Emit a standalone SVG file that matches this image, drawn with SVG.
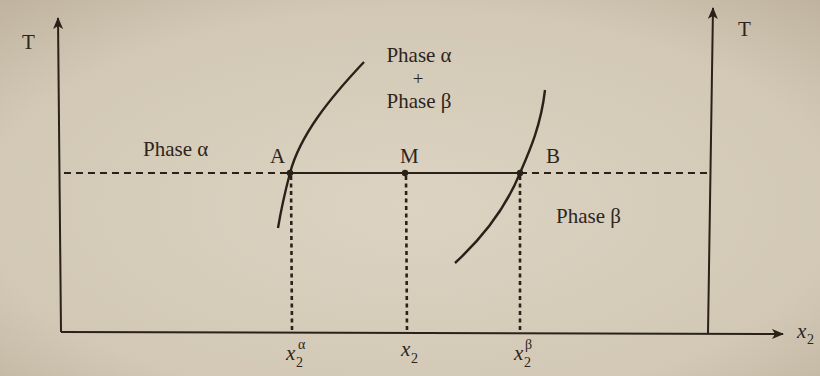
<svg xmlns="http://www.w3.org/2000/svg" width="820" height="376" viewBox="0 0 820 376">
  <defs>
    <radialGradient id="paper" cx="0.5" cy="0.55" r="0.75">
      <stop offset="0" stop-color="#dcd3c2"/>
      <stop offset="0.7" stop-color="#d2c8b5"/>
      <stop offset="1" stop-color="#bfb39e"/>
    </radialGradient>
    <marker id="arr" viewBox="0 0 12 10" refX="11" refY="5" markerWidth="12" markerHeight="10" markerUnits="userSpaceOnUse" orient="auto">
      <path d="M0,0 L12,5 L0,10 L3,5 Z" fill="#2a2219"/>
    </marker>
    <style>
      .ln { stroke: #2a2219; stroke-width: 2; fill: none; }
      .cv { stroke: #2a2219; stroke-width: 2.4; fill: none; }
      .dash { stroke: #2a2219; stroke-width: 2.2; fill: none; stroke-dasharray: 7 5; }
      .dot { stroke: #2a2219; stroke-width: 2.6; fill: none; stroke-dasharray: 4 3.5; }
      .t { font-family: "Liberation Serif", "DejaVu Serif", serif; font-size: 21px; fill: #2d251c; }
      .plus { font-family: "Liberation Serif", "DejaVu Serif", serif; font-size: 19px; fill: #2d251c; }
      .ti { font-family: "Liberation Serif", "DejaVu Serif", serif; font-size: 21px; font-style: italic; fill: #2d251c; }
      .sub { font-family: "Liberation Serif", "DejaVu Serif", serif; font-size: 14px; fill: #2d251c; }
      .pt { fill: #2a2219; }
    </style>
  </defs>
  <rect x="0" y="0" width="820" height="376" fill="url(#paper)"/>

  <g id="axes">
    <line class="ln" x1="61" y1="332" x2="58" y2="18" marker-end="url(#arr)"/>
    <line class="ln" x1="708" y1="333" x2="713" y2="8" marker-end="url(#arr)"/>
    <line class="ln" x1="61" y1="332" x2="783" y2="334" marker-end="url(#arr)"/>
    <text class="t" x="22" y="49">T</text>
    <text class="t" x="738" y="36">T</text>
    <text class="ti" x="797" y="338">x</text>
    <text class="sub" x="807" y="344">2</text>
  </g>

  <g id="connectors">
    <line class="dash" x1="64" y1="173" x2="290" y2="173"/>
    <line class="ln" x1="290" y1="173" x2="520" y2="173"/>
    <line class="dash" x1="520" y1="173" x2="710" y2="173"/>
    <line class="dot" x1="291" y1="176" x2="292" y2="330"/>
    <line class="dot" x1="406" y1="176" x2="407" y2="331"/>
    <line class="dot" x1="520" y1="176" x2="520" y2="332"/>
  </g>

  <g id="curve-alpha">
    <path class="cv" d="M364,62 C330,98 300,135 290,173 C285,192 281,210 278,228"/>
  </g>
  <g id="curve-beta">
    <path class="cv" d="M545,90 C541,125 530,150 520,173 C505,210 480,240 455,263"/>
  </g>

  <g id="point-A">
    <circle class="pt" cx="290" cy="173" r="3.2"/>
    <text class="t" x="270" y="163">A</text>
  </g>
  <g id="point-M">
    <circle class="pt" cx="405" cy="173" r="3.2"/>
    <text class="t" x="400" y="163">M</text>
  </g>
  <g id="point-B">
    <circle class="pt" cx="520" cy="173" r="3.2"/>
    <text class="t" x="546" y="163">B</text>
  </g>

  <g id="region-alpha">
    <text class="t" x="143" y="156">Phase α</text>
  </g>
  <g id="region-two-phase">
    <text class="t" x="419" y="62" text-anchor="middle">Phase α</text>
    <text class="plus" x="418" y="85" text-anchor="middle">+</text>
    <text class="t" x="419" y="108" text-anchor="middle">Phase β</text>
  </g>
  <g id="region-beta">
    <text class="t" x="556" y="223">Phase β</text>
  </g>

  <g id="tick-labels">
    <text class="ti" x="286" y="360">x</text>
    <text class="sub" x="296" y="367">2</text>
    <text class="sub" x="298" y="349">α</text>
    <text class="ti" x="401" y="356">x</text>
    <text class="sub" x="411" y="363">2</text>
    <text class="ti" x="514" y="360">x</text>
    <text class="sub" x="524" y="367">2</text>
    <text class="sub" x="525" y="349">β</text>
  </g>
</svg>
